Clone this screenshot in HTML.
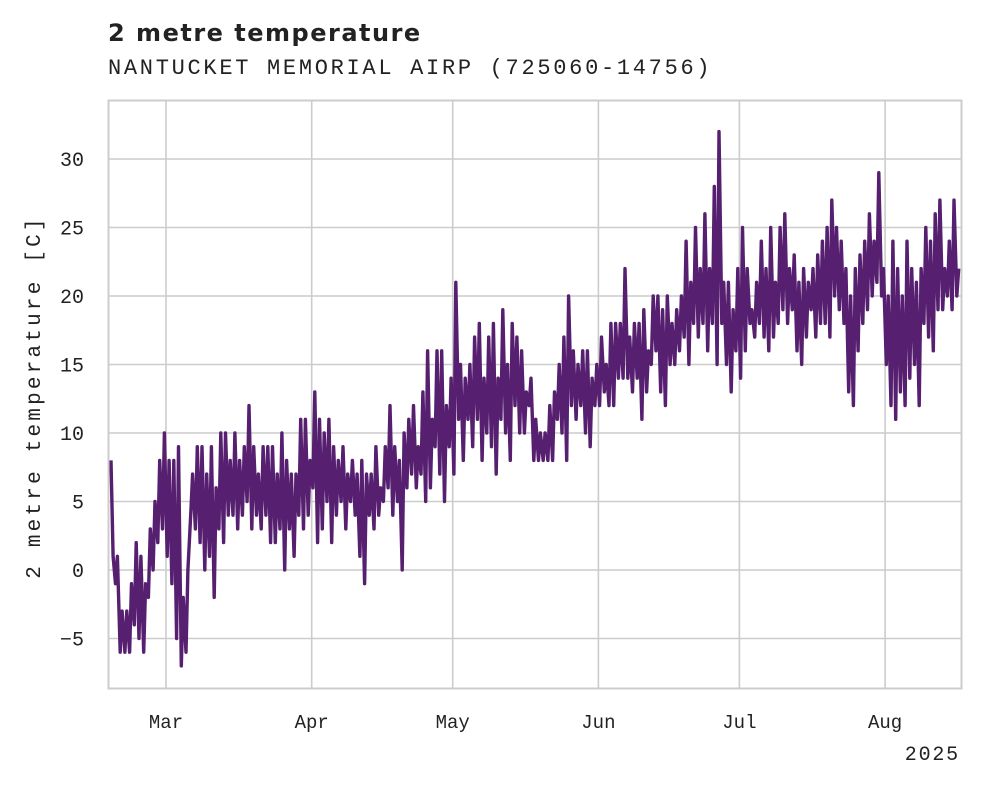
<!DOCTYPE html>
<html><head><meta charset="utf-8"><style>
body{margin:0;background:#fff;width:981px;height:785px;overflow:hidden}
svg text{font-family:"Liberation Mono",monospace;fill:#222}
</style></head><body>
<svg id="chart" width="981" height="785">
<text x="108" y="41" style="font-family:'DejaVu Sans',sans-serif;font-weight:bold;font-size:24px;letter-spacing:1.5px">2 metre temperature</text>
<text x="108" y="74" style="font-size:22px;letter-spacing:2.7px">NANTUCKET MEMORIAL AIRP (725060-14756)</text>
<g id="grid"></g>
<g id="series"></g>
<rect x="108.5" y="100.5" width="853" height="588" fill="none" stroke="#ccc" stroke-width="2"/>
<g id="ticks"></g>
<text transform="translate(40,397) rotate(-90)" text-anchor="middle" style="font-size:21px;letter-spacing:3.2px">2 metre temperature [C]</text>
<text x="960" y="760" text-anchor="end" style="font-size:20px;letter-spacing:1.8px">2025</text>
</svg>
<script>
const yTicks=[-5,0,5,10,15,20,25,30];
const monthLabels=["Mar","Apr","May","Jun","Jul","Aug"];
const monthDays=[12,43,73,104,134,165];
const dayMin=[1,-1,-6,-6,-6,-4,-5,-6,-2,0,2,3,
1,-1,-5,-7,-6,4,3,2,0,1,-2,3,2,4,4,3,4,5,3,4,3,4,2,2,3,0,3,1,4,3,4,
6,2,3,5,2,4,5,3,5,4,1,-1,4,3,4,5,6,4,5,0,6,7,6,7,5,6,9,7,5,9,
7,11,8,11,9,11,8,10,9,7,11,10,8,12,10,10,12,8,8,8,8,8,11,10,8,12,11,12,10,9,12,
12,13,12,12,14,14,14,13,14,11,13,15,16,13,12,15,15,16,17,15,18,17,18,16,18,15,18,15,13,16,
14,16,18,17,18,17,16,17,18,19,18,19,16,15,17,19,17,18,18,17,20,19,18,13,12,16,18,19,20,21,20,
15,12,11,13,12,14,15,12,18,17,16,19,19,20,19,20];
const dayMax=[8,1,-3,-3,-1,2,1,-1,3,5,8,10,
8,8,9,-2,0,7,9,9,7,9,6,10,10,8,10,8,9,12,9,7,9,9,9,7,10,8,7,7,11,11,8,
13,11,10,11,9,8,9,7,8,7,8,7,7,9,6,9,12,9,8,10,11,12,9,13,16,11,16,16,12,14,
21,15,14,15,17,18,14,17,18,14,19,15,18,17,16,13,14,11,10,10,12,13,15,17,20,16,15,16,16,14,15,
17,15,18,18,18,22,17,18,18,19,16,20,20,19,20,18,19,20,24,21,25,22,26,22,28,32,21,21,19,22,
25,22,19,21,24,22,25,21,25,26,22,23,21,22,21,22,23,24,25,27,25,24,22,20,22,23,24,26,24,29,22,
20,24,22,20,24,22,21,22,25,24,26,27,22,24,27,22];
const NS="http://www.w3.org/2000/svg";
const x=d=>166+(d-12)*4.70;
const y=v=>570-v*13.7;
const grid=document.getElementById('grid'),ticks=document.getElementById('ticks');
yTicks.forEach(v=>{
 const l=document.createElementNS(NS,'line');
 
 
 l.setAttribute('x1',108);l.setAttribute('x2',962);l.setAttribute('y1',y(v));l.setAttribute('y2',y(v));
 l.setAttribute('stroke','#ccc');l.setAttribute('stroke-width','1.6');grid.appendChild(l);
 const t=document.createElementNS(NS,'text');
 
 
 t.setAttribute('x',84);t.setAttribute('y',y(v)+7);t.setAttribute('text-anchor','end');t.setAttribute('font-size','20');
 t.textContent=v<0?'\u2212'+(-v):String(v);ticks.appendChild(t);
});
monthDays.forEach((d,i)=>{
 const l=document.createElementNS(NS,'line');
 
 
 l.setAttribute('x1',x(d));l.setAttribute('x2',x(d));l.setAttribute('y1',100);l.setAttribute('y2',689);
 l.setAttribute('stroke','#ccc');l.setAttribute('stroke-width','1.6');grid.appendChild(l);
 const t=document.createElementNS(NS,'text');
 
 
 t.setAttribute('x',x(d));t.setAttribute('y',728);t.setAttribute('text-anchor','middle');t.setAttribute('font-size','19');
 t.textContent=monthLabels[i];ticks.appendChild(t);
});
let pts=[];
for(let d=0;d<dayMin.length;d++){
 if(d===0){pts.push([x(0.3),y(dayMax[0])]);pts.push([x(0.75),y(dayMin[0])]);continue;}
 pts.push([x(d+0.25),y(dayMin[d])]);
 pts.push([x(d+0.65),y(dayMax[d])]);
}
const p=document.createElementNS(NS,'polyline');


p.setAttribute('points',pts.map(q=>q[0].toFixed(1)+','+q[1].toFixed(1)).join(' '));
p.setAttribute('fill','none');p.setAttribute('stroke','#561f70');p.setAttribute('stroke-width','3.4');p.setAttribute('stroke-linejoin','round');
document.getElementById('series').appendChild(p);
</script>
</body></html>
